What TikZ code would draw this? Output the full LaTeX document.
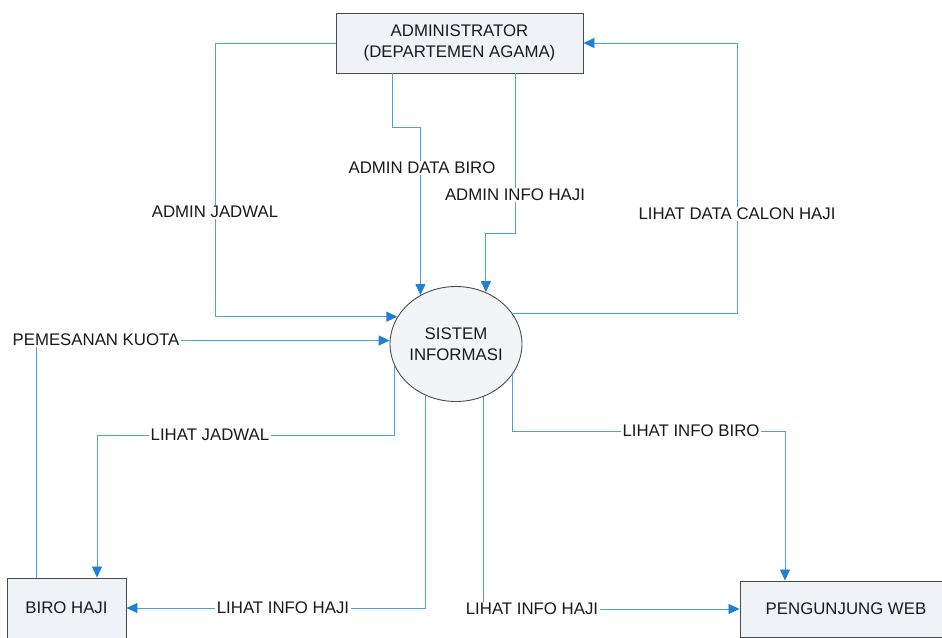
\documentclass[tikz,border=0pt]{standalone}
\usepackage{fontspec}
\setmainfont{Liberation Sans}
\usetikzlibrary{arrows.meta,shapes.geometric,calc}
\pgfdeclarelayer{background}
\pgfsetlayers{background,main}
\definecolor{flowblue}{HTML}{4BA3DE}
\definecolor{tipblue}{HTML}{1F80D6}
\definecolor{boxfill}{HTML}{EFF3F7}
\definecolor{circfill}{HTML}{F2F4F6}
\definecolor{edge}{HTML}{4A4A4A}
\definecolor{ink}{HTML}{1A1A1A}
\tikzset{
  every node/.style={font=\fontsize{16.8}{21}\selectfont, text=ink},
  entity/.style={draw=edge, line width=0.9pt, fill=boxfill, align=center, inner sep=0pt},
  proc/.style={ellipse, draw=edge, line width=0.9pt, fill=circfill, inner sep=0pt,
    minimum width=119pt, minimum height=115pt, align=center},
  flow/.style={draw=flowblue, line width=0.8pt,
    -{Triangle[length=11pt,width=10pt,fill=tipblue,color=tipblue]}},
  lbl/.style={fill=white, inner sep=1.5pt}
}
\begin{document}
\begin{tikzpicture}[x=1pt,y=-1pt]
\useasboundingbox (0,0) rectangle (942,637);

% entities
\node[entity, minimum width=247pt, minimum height=60pt] (admin) at (459.5,43)
  {ADMINISTRATOR\\(DEPARTEMEN AGAMA)};
\node[proc] (sys) at (456,344) {SISTEM\\INFORMASI};
\node[entity, minimum width=119pt, minimum height=60pt] (biro) at (66.5,608) {BIRO HAJI};
\node[entity, minimum width=212pt, minimum height=56pt] (peng) at (846,609) {PENGUNJUNG WEB};

% helper coordinates
\coordinate (cJad) at (215,43);
\coordinate (cBiro) at ($(admin.south west)+(57,54)$);
\coordinate (cInfo) at ($(admin.south west)+(180,160)$);
\coordinate (cCalon) at (737,43);
\coordinate (cLJ) at (97,435);
\coordinate (cLIB) at (785,431);

% connectors
\draw[flow] (admin.west) -- (cJad) |- (sys.155);
\draw[flow] ($(admin.south west)+(57,0)$) -- (cBiro) -| (sys.126);
\draw[flow] ($(admin.south west)+(180,0)$) -- (cInfo) -| (sys.60);
\draw[flow] (sys.29) -| (cCalon) -- (admin.east);
\draw[flow] ($(biro.north west)+(30,0)$) |- (sys.177);
\draw[flow] (sys.200) |- (cLJ) -- (biro.north -| cLJ);
\draw[flow] (sys.239) |- (biro.east);
\draw[flow] (sys.297) |- (peng.west);
\draw[flow] (sys.331) |- (cLIB) -- (peng.north -| cLIB);

% labels
\node[lbl] (lJad) at (215,212) {ADMIN JADWAL};
\node[lbl] (lBiro) at (422,168) {ADMIN DATA BIRO};
\node[lbl] (lInfo) at (515,195) {ADMIN INFO HAJI};
\node[lbl] (lCalon) at (737,214) {LIHAT DATA CALON HAJI};
\node[lbl] (lKuota) at (96,340) {PEMESANAN KUOTA};
\node[lbl] (lLJ) at (210,435) {LIHAT JADWAL};
\node[lbl] (lLIH1) at (283,608) {LIHAT INFO HAJI};
\node[lbl] (lLIH2) at (532,609) {LIHAT INFO HAJI};
\node[lbl] (lLIB) at (691,431) {LIHAT INFO BIRO};
\end{tikzpicture}
\end{document}
